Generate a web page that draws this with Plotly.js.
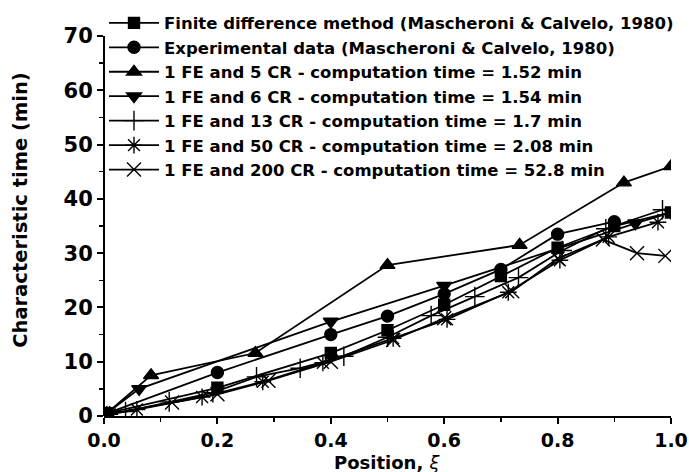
<!DOCTYPE html>
<html>
<head>
<meta charset="utf-8">
<script src="https://cdn.plot.ly/plotly-3.0.1.min.js"></script>
<style>html,body{margin:0;padding:0;background:#fff;}#chart{width:689px;height:472px;}</style>
</head>
<body>
<div id="chart"></div>
<script>
// Series names
const names = [
  "Finite difference method (Mascheroni &amp; Calvelo, 1980)",
  "Experimental data (Mascheroni &amp; Calvelo, 1980)",
  "1 FE and 5 CR - computation time = 1.52 min",
  "1 FE and 6 CR - computation time = 1.54 min",
  "1 FE and 13 CR - computation time = 1.7 min",
  "1 FE and 50 CR - computation time = 2.08 min",
  "1 FE and 200 CR - computation time = 52.8 min"
];

// Finite difference (squares)
const xFD = [0.005, 0.2, 0.4, 0.5, 0.6, 0.7, 0.8, 0.9, 1.0];
const yFD = [0.5, 5.2, 11.6, 15.8, 20.5, 25.8, 31.0, 35.0, 37.5];

// Experimental (circles)
const xExp = [0.005, 0.2, 0.4, 0.5, 0.6, 0.7, 0.8, 0.9];
const yExp = [0.5, 8.0, 15.0, 18.4, 22.5, 27.0, 33.5, 35.8];

// 5 CR (triangle up)
const x5 = [0.005, 0.083, 0.267, 0.5, 0.733, 0.917, 1.0];
const y5 = [0.5, 7.5, 11.6, 27.8, 31.5, 43.0, 46.0];

// 6 CR (triangle down)
const x6 = [0.005, 0.062, 0.4, 0.6, 0.937, 1.0];
const y6 = [0.5, 5.0, 17.4, 24.0, 35.5, 37.5];

// 13 CR (plus)
const x13 = [0.038, 0.115, 0.192, 0.269, 0.346, 0.423, 0.5, 0.577, 0.654, 0.731, 0.808, 0.885, 0.985];
const y13 = [0.8, 2.6, 4.3, 7.2, 8.8, 11.0, 14.5, 18.5, 22.0, 25.5, 30.5, 34.5, 38.0];

// 50 CR (asterisk)
const x50 = [0.01, 0.058, 0.173, 0.28, 0.386, 0.51, 0.605, 0.713, 0.804, 0.89, 0.977];
const y50 = [0.3, 1.2, 3.5, 6.3, 9.8, 14.3, 17.8, 22.8, 28.7, 33.0, 35.7];

// 200 CR (x)
const x200 = [0.005, 0.12, 0.2, 0.29, 0.4, 0.51, 0.6, 0.72, 0.8, 0.88, 0.94, 0.99];
const y200 = [0.3, 2.5, 4.0, 6.5, 10.0, 14.0, 18.0, 23.0, 29.0, 32.5, 30.0, 29.5];

const xTickVals = [0, 0.2, 0.4, 0.6, 0.8, 1.0];
const xTickText = ["0.0", "0.2", "0.4", "0.6", "0.8", "1.0"];
const yTickVals = [0, 10, 20, 30, 40, 50, 60, 70];
const yMinorVals = [5, 15, 25, 35, 45, 55, 65];
const yAxisMax = 70;

const xs = [xFD, xExp, x5, x6, x13, x50, x200];
const ys = [yFD, yExp, y5, y6, y13, y50, y200];
const symbols = ["square", "circle", "triangle-up", "triangle-down", "cross-thin-open", "asterisk-open", "x-thin-open"];
const sizes = [11, 12, 13, 13, 14, 14, 14];

const traces = xs.map((x, i) => ({
  type: "scatter",
  mode: "lines+markers",
  x: x,
  y: ys[i],
  name: names[i],
  line: {color: "#000", width: 1.8},
  marker: {symbol: symbols[i], size: sizes[i], color: "#000", line: {color: "#000", width: 1.4}}
}));

const FONT = "DejaVu Sans, Liberation Sans, Arial, sans-serif";

const layout = {
  width: 689, height: 472,
  margin: {l: 104, r: 18, t: 4, b: 56},
  paper_bgcolor: "#fff", plot_bgcolor: "#fff",
  font: {family: FONT, color: "#000"},
  showlegend: true,
  legend: {
    x: 0.0, y: 0.996, xanchor: "left", yanchor: "top",
    bgcolor: "rgba(0,0,0,0)",
    font: {family: FONT, size: 16.5, weight: "bold", color: "#000"},
    tracegroupgap: 0,
    itemwidth: 50
  },
  xaxis: {
    range: [0, 1.0], tickvals: xTickVals, ticktext: xTickText,
    showgrid: false, zeroline: false, showline: true, linecolor: "#000", linewidth: 2,
    ticks: "outside", ticklen: 6, tickwidth: 2, tickcolor: "#000",
    minor: {dtick: 0.1, ticks: "outside", ticklen: 4, tickwidth: 1.5, tickcolor: "#000", showgrid: false},
    tickfont: {family: FONT, size: 19, weight: "bold"},
    ticklabeloverflow: "allow"
  },
  yaxis: {
    range: [0, 75.9], tickvals: yTickVals,
    showgrid: false, zeroline: false, showline: false,
    ticks: "outside", ticklen: 6, tickwidth: 2, tickcolor: "#000",
    minor: {tickvals: yMinorVals, ticks: "outside", ticklen: 4, tickwidth: 1.5, tickcolor: "#000", showgrid: false},
    tickfont: {family: FONT, size: 21, weight: "bold"},
    title: {text: "Characteristic time (min)", font: {family: FONT, size: 19.5, weight: "bold"}, standoff: 30}
  },
  shapes: [{
    type: "line", xref: "paper", yref: "y", x0: 0, x1: 0, y0: 0, y1: yAxisMax,
    line: {color: "#000", width: 2}, layer: "above"
  }],
  annotations: [{
    text: "<b>Position, </b><i>ξ</i>",
    xref: "paper", yref: "paper", x: 0.5, y: -0.114,
    xanchor: "center", yanchor: "middle", showarrow: false,
    font: {family: FONT, size: 18, color: "#000"}
  }]
};

Plotly.newPlot("chart", traces, layout, {displayModeBar: false, staticPlot: true});
</script>
</body>
</html>
